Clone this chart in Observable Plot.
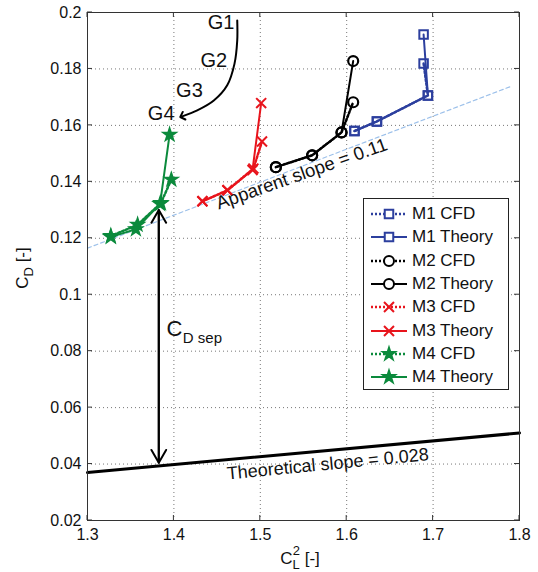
<!DOCTYPE html>
<html><head><meta charset="utf-8">
<script src="https://cdn.jsdelivr.net/npm/d3@7"></script>
<script src="https://cdn.jsdelivr.net/npm/@observablehq/plot@0.6"></script>
<style>
body{margin:0;background:#fff;font-family:"Liberation Sans",Arial,sans-serif;}
#wrap{position:relative;width:538px;height:572px;}
#legend{position:absolute;left:363px;top:198px;width:146px;height:192px;border:1px solid #222;background:#fff;box-sizing:border-box;}
.row{position:absolute;left:0;height:22px;display:flex;align-items:center;font-size:17px;color:#111;white-space:nowrap;}
.row svg{margin-left:6px;margin-right:4px;}
</style></head><body><div id="wrap"><div id="legend"></div></div>
<script>
// ---------- data ----------
const seriesNames = ["M1", "M2", "M3", "M4"];
const seriesColors = ["#2c3f9e", "#000000", "#e8141c", "#0b8a3c"];
const seriesSymbols = ["square", "circle", "times", "star"];

const m1CfdX = [1.609, 1.635, 1.694, 1.689];
const m1CfdY = [0.1580, 0.1614, 0.1706, 0.1819];
const m1TheoryX = [1.609, 1.635, 1.694, 1.689];
const m1TheoryY = [0.1580, 0.1614, 0.1706, 0.1922];

const m2CfdX = [1.518, 1.560, 1.594, 1.6075];
const m2CfdY = [0.1452, 0.1494, 0.1575, 0.1682];
const m2TheoryX = [1.518, 1.560, 1.594, 1.6075];
const m2TheoryY = [0.1452, 0.1494, 0.1575, 0.1828];

const m3CfdX = [1.433, 1.462, 1.492, 1.502];
const m3CfdY = [0.1331, 0.1370, 0.1447, 0.1543];
const m3TheoryX = [1.433, 1.462, 1.491, 1.501];
const m3TheoryY = [0.1331, 0.1370, 0.1442, 0.1679];

const m4CfdX = [1.327, 1.358, 1.385, 1.397];
const m4CfdY = [0.1208, 0.1248, 0.1325, 0.1408];
const m4TheoryX = [1.327, 1.356, 1.384, 1.395];
const m4TheoryY = [0.1205, 0.1232, 0.1322, 0.1567];

const apparentX = [1.30, 1.79];
const apparentY = [0.1165, 0.1738];
const theoreticalX = [1.30, 1.80];
const theoreticalY = [0.0370, 0.0510];

const sepX = [1.3825, 1.3825];
const sepY = [0.1300, 0.0405];

const gCurveX = [1.4733, 1.4733, 1.4701, 1.4617, 1.4462, 1.4270, 1.4096];
const gCurveY = [0.1972, 0.1901, 0.1818, 0.1742, 0.1688, 0.1653, 0.1632];
const gLabels = ["G1", "G2", "G3", "G4"];
const gLabelX = [1.4547, 1.4462, 1.4180, 1.3853];
const gLabelY = [0.1966, 0.1830, 0.1724, 0.1641];

const xTicks = [1.3, 1.4, 1.5, 1.6, 1.7, 1.8];
const xTickLabels = ["1.3", "1.4", "1.5", "1.6", "1.7", "1.8"];
const yTicks = [0.02, 0.04, 0.06, 0.08, 0.1, 0.12, 0.14, 0.16, 0.18, 0.2];
const yTickLabels = ["0.02", "0.04", "0.06", "0.08", "0.1", "0.12", "0.14", "0.16", "0.18", "0.2"];

// ---------- build tables ----------
const cfd = [[m1CfdX, m1CfdY], [m2CfdX, m2CfdY], [m3CfdX, m3CfdY], [m4CfdX, m4CfdY]];
const theory = [[m1TheoryX, m1TheoryY], [m2TheoryX, m2TheoryY], [m3TheoryX, m3TheoryY], [m4TheoryX, m4TheoryY]];
const toRows = (arr, kind) => arr.flatMap(([xs, ys], i) => xs.map((x, j) => ({x, y: ys[j], s: seriesNames[i], kind})));
const cfdRows = toRows(cfd, "CFD");
const theoryRows = toRows(theory, "Theory");
const zip = (xs, ys) => xs.map((x, i) => ({x, y: ys[i]}));
const apparent = zip(apparentX, apparentY);
const theoretical = zip(theoreticalX, theoreticalY);
const gCurve = zip(gCurveX, gCurveY);
const gText = gLabels.map((t, i) => ({t, x: gLabelX[i], y: gLabelY[i]}));
const colorOf = s => seriesColors[seriesNames.indexOf(s)];
const symOf = s => seriesSymbols[seriesNames.indexOf(s)];
const xFmt = d => xTickLabels[xTicks.findIndex(v => Math.abs(v - d) < 1e-9)];
const yFmt = d => yTickLabels[yTicks.findIndex(v => Math.abs(v - d) < 1e-9)];
const one = (x, y, text) => [{x, y, text}];
const symR = {square: 4.8, circle: 5, times: 4.6, star: 3.7};

const font = "Liberation Sans, Arial, sans-serif";
const marks = [];
marks.push(Plot.gridX(xTicks, {stroke: "#777", strokeOpacity: 1, strokeDasharray: "1,3"}));
marks.push(Plot.gridY(yTicks, {stroke: "#777", strokeOpacity: 1, strokeDasharray: "1,3"}));
marks.push(Plot.line(apparent, {x: "x", y: "y", stroke: "#9cc0ea", strokeWidth: 1.2, strokeDasharray: "4,3"}));
marks.push(Plot.line(theoretical, {x: "x", y: "y", stroke: "#000", strokeWidth: 3}));
const sepDown = [{x1: sepX[0], y1: sepY[0], x2: sepX[1], y2: sepY[1]}];
const sepUp = [{x1: sepX[1], y1: sepY[1], x2: sepX[0], y2: sepY[0]}];
marks.push(Plot.arrow(sepDown, {x1: "x1", y1: "y1", x2: "x2", y2: "y2", stroke: "#000", strokeWidth: 2, headLength: 11}));
marks.push(Plot.arrow(sepUp, {x1: "x1", y1: "y1", x2: "x2", y2: "y2", stroke: "#000", strokeWidth: 2, headLength: 11}));
marks.push(Plot.line(gCurve, {x: "x", y: "y", curve: "catmull-rom", stroke: "#000", strokeWidth: 2, markerEnd: "arrow"}));
marks.push(Plot.text(gText, {x: "x", y: "y", text: "t", fontSize: 20, fill: "#111", fontFamily: font}));
for (const s of seriesNames) {
  const c = colorOf(s), sym = symOf(s);
  const th = theoryRows.filter(d => d.s === s), cf = cfdRows.filter(d => d.s === s);
  marks.push(Plot.line(th, {x: "x", y: "y", stroke: c, strokeWidth: 2}));
  marks.push(Plot.line(cf, {x: "x", y: "y", stroke: c, strokeWidth: 2.5, strokeDasharray: "2,2"}));
  const filled = sym === "star";
  marks.push(Plot.dot(th.concat(cf), {x: "x", y: "y", symbol: () => sym, r: symR[sym], stroke: c, strokeWidth: sym === "circle" ? 2.2 : 2, fill: filled ? c : "none"}));
}
marks.push(Plot.text(one(1.548, 0.1428, "Apparent slope = 0.11"), {x: "x", y: "y", text: "text", rotate: -19.5, fontSize: 18.5, fill: "#111", fontFamily: font}));
marks.push(Plot.text(one(1.578, 0.0400, "Theoretical slope = 0.028"), {x: "x", y: "y", text: "text", rotate: -5.5, fontSize: 18, fill: "#111", fontFamily: font}));
marks.push(Plot.text(one(1.4007, 0.0877, "C"), {x: "x", y: "y", text: "text", fontSize: 22, fill: "#111", fontFamily: font}));
marks.push(Plot.text(one(1.4330, 0.0846, "D sep"), {x: "x", y: "y", text: "text", fontSize: 15, fill: "#111", fontFamily: font}));
marks.push(Plot.frame({stroke: "#333", strokeWidth: 1}));
marks.push(Plot.axisX(xTicks, {anchor: "bottom", tickSize: 0, tickPadding: 8, tickFormat: xFmt, fontSize: 16, label: null, fill: "#111"}));
marks.push(Plot.axisY(yTicks, {anchor: "left", tickSize: 0, tickPadding: 6, tickFormat: yFmt, fontSize: 16, label: null, fill: "#111"}));

const chart = Plot.plot({
  width: 538, height: 572,
  marginLeft: 87, marginRight: 19, marginTop: 12, marginBottom: 52,
  x: {type: "linear", domain: [1.3, 1.8]},
  y: {type: "linear", domain: [0.02, 0.2]},
  style: {fontFamily: font, fontSize: "16px", background: "#fff", color: "#111"},
  marks
});
document.getElementById("wrap").prepend(chart);

// axis labels with sub/superscripts
const svg = d3.select(chart);
const ylab = svg.append("text").attr("transform", "translate(28,268) rotate(-90)")
  .attr("text-anchor", "middle").attr("font-size", 17).attr("fill", "#111").attr("font-family", font);
ylab.append("tspan").text("C");
ylab.append("tspan").attr("font-size", 13).attr("dy", 5).text("D");
ylab.append("tspan").attr("dy", -5).text(" [-]");
const xlab = svg.append("text").attr("transform", "translate(300,564)")
  .attr("text-anchor", "middle").attr("font-size", 17).attr("fill", "#111").attr("font-family", font);
xlab.append("tspan").text("C");
xlab.append("tspan").attr("font-size", 13).attr("dy", 5).text("L");
xlab.append("tspan").attr("font-size", 13).attr("dy", -14).attr("dx", -7).text("2");
xlab.append("tspan").attr("dy", 9).text(" [-]");

// inward ticks on all four sides
const xs = d3.scaleLinear([1.3, 1.8], [87, 519]);
const ys = d3.scaleLinear([0.02, 0.2], [520, 12]);
const tg = svg.append("g").attr("stroke", "#333").attr("stroke-width", 1);
for (const t of xTicks) { tg.append("line").attr("x1", xs(t)).attr("x2", xs(t)).attr("y1", 520).attr("y2", 515); tg.append("line").attr("x1", xs(t)).attr("x2", xs(t)).attr("y1", 12).attr("y2", 17); }
for (const t of yTicks) { tg.append("line").attr("y1", ys(t)).attr("y2", ys(t)).attr("x1", 87).attr("x2", 92); tg.append("line").attr("y1", ys(t)).attr("y2", ys(t)).attr("x1", 519).attr("x2", 514); }

// legend
const leg = d3.select("#legend");
const entries = seriesNames.flatMap((s, i) => [[s, i, "CFD"], [s, i, "Theory"]]);
const symMap = {square: d3.symbolSquare, circle: d3.symbolCircle, times: d3.symbolTimes, star: d3.symbolStar};
entries.forEach(([s, i, kind], k) => {
  const row = leg.append("div").attr("class", "row").style("top", (4 + k * 23.3) + "px");
  const sv = row.append("svg").attr("width", 38).attr("height", 20);
  sv.append("line").attr("x1", 1).attr("x2", 37).attr("y1", 10).attr("y2", 10)
    .attr("stroke", seriesColors[i]).attr("stroke-width", kind === "CFD" ? 2.5 : 2)
    .attr("stroke-dasharray", kind === "CFD" ? "2,2" : null);
  const sym = seriesSymbols[i];
  const r = symR[sym];
  sv.append("path").attr("transform", "translate(19,10)")
    .attr("d", d3.symbol(symMap[sym], Math.PI * r * r)())
    .attr("fill", sym === "star" ? seriesColors[i] : "#fff").attr("stroke", seriesColors[i]).attr("stroke-width", 2);
  row.append("span").text(s + " " + kind);
});
</script></body></html>
